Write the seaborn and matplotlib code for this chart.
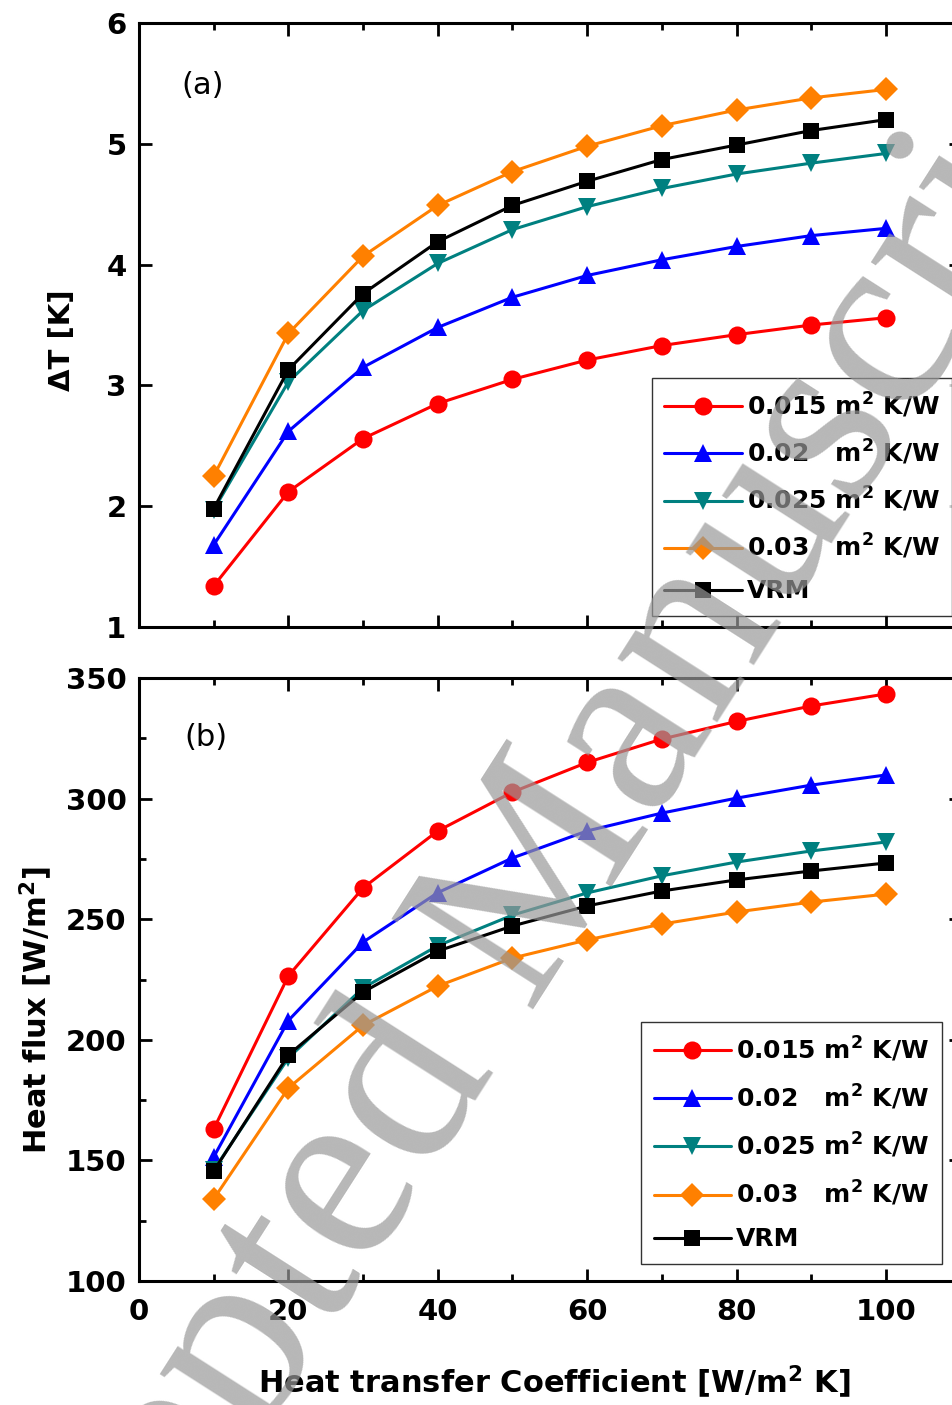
import numpy as np
import pandas as pd
import matplotlib
matplotlib.use("Agg")
import matplotlib.pyplot as plt
from matplotlib.ticker import MultipleLocator
import seaborn as sns

# ---------------- data ----------------
h = [10, 20, 30, 40, 50, 60, 70, 80, 90, 100]

series_labels = ["0.015 m$^2$ K/W", "0.02   m$^2$ K/W", "0.025 m$^2$ K/W",
                 "0.03   m$^2$ K/W", "VRM"]

dT_015 = [1.34, 2.12, 2.56, 2.85, 3.05, 3.21, 3.33, 3.42, 3.50, 3.56]
dT_020 = [1.68, 2.62, 3.15, 3.48, 3.73, 3.91, 4.04, 4.15, 4.24, 4.30]
dT_025 = [1.97, 3.03, 3.62, 4.01, 4.29, 4.48, 4.63, 4.75, 4.84, 4.92]
dT_030 = [2.25, 3.43, 4.07, 4.49, 4.77, 4.98, 5.15, 5.28, 5.38, 5.45]
dT_vrm = [1.98, 3.13, 3.76, 4.19, 4.49, 4.69, 4.87, 4.99, 5.11, 5.20]

q_015 = [163.0, 226.5, 263.0, 286.6, 302.7, 315.0, 324.7, 332.0, 338.4, 343.4]
q_020 = [151.4, 208.0, 240.5, 261.0, 275.4, 286.6, 294.0, 300.2, 305.6, 309.8]
q_025 = [146.0, 192.5, 221.5, 239.0, 251.7, 260.9, 268.0, 273.7, 278.3, 282.0]
q_030 = [134.0, 180.0, 206.0, 222.3, 233.9, 241.4, 248.0, 253.0, 257.1, 260.4]
q_vrm = [145.6, 193.7, 219.8, 236.8, 247.2, 255.5, 261.7, 266.3, 270.0, 273.3]

colors = ["#FF0000", "#0000FF", "#008080", "#FF8000", "#000000"]
markers = ["o", "^", "v", "D", "s"]
msizes = [13, 13, 13, 12, 12]

# ---------------- style ----------------
sns.set_theme(style="ticks")
plt.rcParams["font.family"] = ["DejaVu Sans"]
plt.rcParams["font.weight"] = "bold"
plt.rcParams["axes.labelweight"] = "bold"
plt.rcParams["mathtext.fontset"] = "dejavusans"
plt.rcParams["mathtext.default"] = "bf"
for k in ("text.color", "axes.labelcolor", "xtick.color", "ytick.color",
          "axes.edgecolor"):
    plt.rcParams[k] = "black"

W, H = 953, 1405
fig = plt.figure(figsize=(W / 100, H / 100), dpi=100)

def px_axes(left, top, right, bottom):
    return fig.add_axes([left / W, 1 - bottom / H, (right - left) / W, (bottom - top) / H])

ax_a = px_axes(139, 23, 960.7, 627)
ax_b = px_axes(139, 678, 960.7, 1281)

def draw(ax, ys):
    for y, lab, c, m, ms in zip(ys, series_labels, colors, markers, msizes):
        df = pd.DataFrame({"h": h, "v": y})
        sns.lineplot(data=df, x="h", y="v", ax=ax, color=c, marker=m,
                     markersize=ms, markeredgewidth=0, linewidth=2.2,
                     label=lab, legend=False, zorder=3)

draw(ax_a, [dT_015, dT_020, dT_025, dT_030, dT_vrm])
draw(ax_b, [q_015, q_020, q_025, q_030, q_vrm])

for ax in (ax_a, ax_b):
    ax.set_xlim(0, 110)
    ax.xaxis.set_major_locator(MultipleLocator(20))
    ax.xaxis.set_minor_locator(MultipleLocator(10))
    ax.tick_params(which="both", direction="in", top=True, right=True,
                   width=2.0, labelsize=21, pad=9, colors="black")
    ax.tick_params(which="major", length=9)
    ax.tick_params(which="minor", length=5)
    for s in ax.spines.values():
        s.set_linewidth(2.2)
        s.set_color("black")
    for t in ax.get_xticklabels() + ax.get_yticklabels():
        t.set_fontweight("bold")

ax_a.set_ylim(1, 6)
ax_a.yaxis.set_major_locator(MultipleLocator(1))
ax_a.tick_params(axis="x", labelbottom=False)
ax_a.set_xlabel("")
ax_a.set_ylabel("ΔT [K]", fontsize=21, fontweight="bold")
ax_a.yaxis.set_label_coords(-0.094, 0.475)
ax_a.yaxis.label.set_verticalalignment("center")

ax_b.set_ylim(100, 350)
ax_b.yaxis.set_major_locator(MultipleLocator(50))
ax_b.yaxis.set_minor_locator(MultipleLocator(25))
ax_b.tick_params(axis="x", pad=12)
ax_b.set_ylabel("Heat flux [W/m$^2$]", fontsize=22, fontweight="bold")
ax_b.yaxis.set_label_coords(-0.125, 0.449)
ax_b.yaxis.label.set_verticalalignment("center")
ax_b.set_xlabel("Heat transfer Coefficient [W/m$^2$ K]", fontsize=22, fontweight="bold")
ax_b.xaxis.set_label_coords(0.506, -0.169)
ax_b.xaxis.label.set_verticalalignment("center")

ax_a.text(0.052, 0.897, "(a)", transform=ax_a.transAxes, fontsize=22,
          fontweight="normal", va="center", ha="left")
ax_b.text(0.055, 0.902, "(b)", transform=ax_b.transAxes, fontsize=22,
          fontweight="normal", va="center", ha="left")

for ax, anchor, ls in ((ax_a, (0.624, 0.412), 0.72), (ax_b, (0.611, 0.4295), 0.76)):
    leg = ax.legend(loc="upper left", bbox_to_anchor=anchor, borderaxespad=0,
                    fontsize=18, frameon=True, fancybox=False, edgecolor="black",
                    handlelength=3.1, handletextpad=0.2, labelspacing=ls,
                    borderpad=0.5)
    leg.get_frame().set_linewidth(1.0)
    for t in leg.get_texts():
        t.set_fontweight("bold")

# watermark
fig.text(515 / W, 1 - 925 / H, "Accepted Manuscript", rotation=57.4,
         fontsize=185, family="Liberation Serif", fontweight="normal",
         color="#999999", alpha=0.7, ha="center", va="center", zorder=20)

fig.savefig("out.png", dpi=100)
